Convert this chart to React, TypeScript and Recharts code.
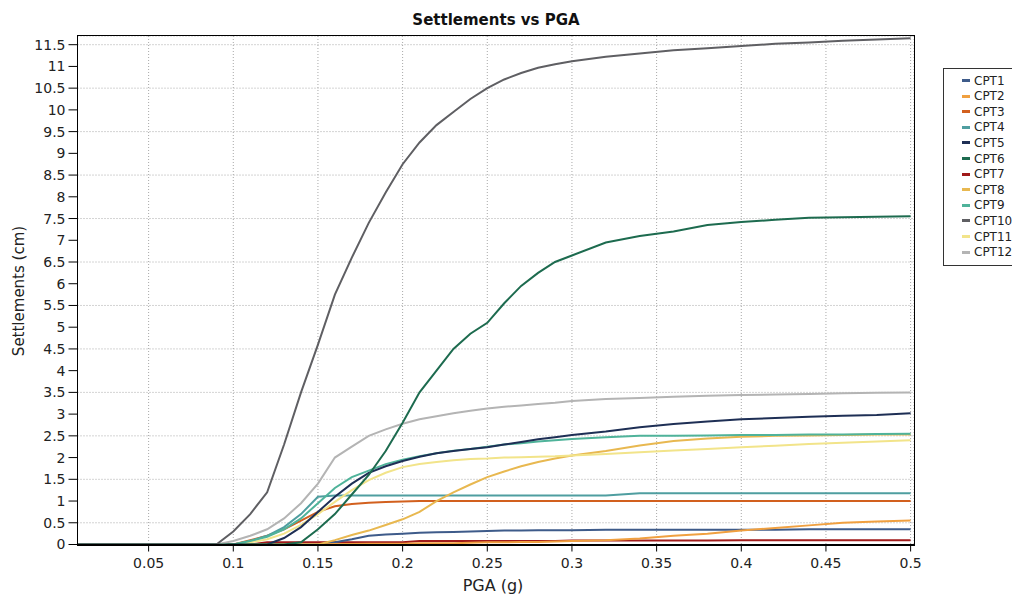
import React from 'react';
import { LineChart, Line, XAxis, YAxis, CartesianGrid } from 'recharts';

const pga = [0.008, 0.09, 0.1, 0.11, 0.12, 0.13, 0.14, 0.15, 0.16, 0.17, 0.18, 0.19, 0.2, 0.21, 0.22, 0.23, 0.24, 0.25, 0.26, 0.27, 0.28, 0.29, 0.3, 0.32, 0.34, 0.36, 0.38, 0.4, 0.42, 0.44, 0.46, 0.48, 0.5];

const cpt1 = [0, 0, 0, 0, 0, 0, 0, 0, 0.05, 0.12, 0.2, 0.23, 0.25, 0.27, 0.28, 0.29, 0.3, 0.31, 0.32, 0.32, 0.33, 0.33, 0.33, 0.34, 0.34, 0.34, 0.34, 0.34, 0.34, 0.35, 0.35, 0.35, 0.35];
const cpt2 = [0, 0, 0, 0, 0, 0, 0, 0, 0.01, 0.01, 0.02, 0.02, 0.02, 0.03, 0.03, 0.03, 0.04, 0.05, 0.05, 0.06, 0.06, 0.07, 0.08, 0.1, 0.14, 0.2, 0.25, 0.32, 0.38, 0.44, 0.5, 0.53, 0.55];
const cpt3 = [0, 0, 0, 0.1, 0.2, 0.35, 0.55, 0.75, 0.88, 0.93, 0.96, 0.98, 0.99, 1, 1, 1, 1, 1, 1, 1, 1, 1, 1, 1, 1, 1, 1, 1, 1, 1, 1, 1, 1];
const cpt4 = [0, 0, 0, 0.08, 0.2, 0.4, 0.7, 1.1, 1.13, 1.13, 1.13, 1.13, 1.13, 1.13, 1.13, 1.13, 1.13, 1.13, 1.13, 1.13, 1.13, 1.13, 1.13, 1.13, 1.18, 1.18, 1.18, 1.18, 1.18, 1.18, 1.18, 1.18, 1.18];
const cpt5 = [0, 0, 0, 0, 0, 0.15, 0.4, 0.75, 1.1, 1.4, 1.65, 1.8, 1.92, 2.02, 2.1, 2.15, 2.2, 2.24, 2.3, 2.36, 2.42, 2.47, 2.52, 2.6, 2.7, 2.77, 2.83, 2.88, 2.91, 2.94, 2.96, 2.98, 3.02];
const cpt6 = [0, 0, 0, 0, 0, 0, 0.05, 0.35, 0.7, 1.15, 1.6, 2.15, 2.8, 3.5, 4.0, 4.5, 4.85, 5.1, 5.55, 5.95, 6.25, 6.5, 6.65, 6.95, 7.1, 7.2, 7.35, 7.42, 7.47, 7.52, 7.53, 7.54, 7.55];
const cpt7 = [0, 0, 0, 0, 0.05, 0.05, 0.05, 0.05, 0.05, 0.05, 0.05, 0.05, 0.05, 0.08, 0.08, 0.08, 0.08, 0.08, 0.08, 0.08, 0.08, 0.08, 0.09, 0.09, 0.09, 0.09, 0.09, 0.1, 0.1, 0.1, 0.1, 0.1, 0.1];
const cpt8 = [0, 0, 0, 0, 0, 0, 0, 0, 0.1, 0.22, 0.32, 0.45, 0.58, 0.75, 1.0, 1.2, 1.38, 1.55, 1.68, 1.8, 1.9, 1.98, 2.05, 2.15, 2.28, 2.38, 2.44, 2.48, 2.5, 2.51, 2.52, 2.53, 2.53];
const cpt9 = [0, 0, 0, 0.08, 0.18, 0.35, 0.6, 0.95, 1.3, 1.55, 1.7, 1.85, 1.95, 2.03, 2.1, 2.16, 2.2, 2.25, 2.3, 2.33, 2.37, 2.4, 2.43, 2.47, 2.5, 2.5, 2.51, 2.52, 2.52, 2.53, 2.53, 2.54, 2.55];
const cpt10 = [0, 0, 0.3, 0.7, 1.2, 2.3, 3.5, 4.6, 5.75, 6.6, 7.4, 8.1, 8.75, 9.25, 9.65, 9.95, 10.25, 10.5, 10.7, 10.85, 10.97, 11.05, 11.12, 11.22, 11.3, 11.37, 11.42, 11.47, 11.52, 11.55, 11.59, 11.62, 11.65];
const cpt11 = [0, 0, 0, 0.05, 0.12, 0.25, 0.45, 0.7, 0.98, 1.25, 1.48, 1.65, 1.78, 1.85, 1.9, 1.94, 1.97, 1.98, 2.0, 2.01, 2.02, 2.03, 2.05, 2.08, 2.12, 2.16, 2.2, 2.24, 2.27, 2.31, 2.34, 2.37, 2.4];
const cpt12 = [0, 0, 0.08, 0.2, 0.35, 0.6, 0.95, 1.4, 2.0, 2.25, 2.5, 2.65, 2.78, 2.88, 2.95, 3.02, 3.08, 3.13, 3.17, 3.2, 3.23, 3.26, 3.3, 3.35, 3.37, 3.4, 3.42, 3.44, 3.45, 3.46, 3.48, 3.49, 3.5];

const seriesNames = ['CPT1', 'CPT2', 'CPT3', 'CPT4', 'CPT5', 'CPT6', 'CPT7', 'CPT8', 'CPT9', 'CPT10', 'CPT11', 'CPT12'];
const seriesValues = [cpt1, cpt2, cpt3, cpt4, cpt5, cpt6, cpt7, cpt8, cpt9, cpt10, cpt11, cpt12];
const seriesColors = ['#3e5b8a', '#f0a040', '#d2601e', '#4f9ea0', '#1e2f55', '#1d6b4f', '#a01a1a', '#e8b850', '#4fb39a', '#5f5f63', '#f2e48a', '#b4b4b4'];

const xTicks = [0.05, 0.1, 0.15, 0.2, 0.25, 0.3, 0.35, 0.4, 0.45, 0.5];
const yTicks = [0, 0.5, 1, 1.5, 2, 2.5, 3, 3.5, 4, 4.5, 5, 5.5, 6, 6.5, 7, 7.5, 8, 8.5, 9, 9.5, 10, 10.5, 11, 11.5];

const rows = pga.map((x, i) => {
  const r: Record<string, number> = { pga: x };
  seriesNames.forEach((n, k) => { r[n] = seriesValues[k][i]; });
  return r;
});

const FONT = '"DejaVu Sans", Verdana, sans-serif';
const drawOrder = [6, 0, 1, 2, 3, 7, 10, 8, 4, 11, 5, 9];

export default function App() {
  return (
    <div style={{ position: 'absolute', left: 0, top: 0, width: 1012, height: 595, overflow: 'hidden', background: '#fff', fontFamily: FONT }}>
      <LineChart width={1012} height={595} data={rows} margin={{ top: 36, right: 98, bottom: 20, left: 0 }}>
        <CartesianGrid stroke="#a8a8a8" strokeDasharray="1 2" />
        <XAxis
          dataKey="pga"
          type="number"
          domain={[0.008, 0.502]}
          ticks={xTicks}
          allowDataOverflow
          height={30.5}
          tickSize={7}
          tickMargin={7}
          stroke="#000"
          tick={{ fill: '#222', fontSize: 14, fontFamily: FONT }}
        />
        <YAxis
          type="number"
          domain={[0, 11.7]}
          ticks={yTicks}
          allowDataOverflow
          width={77.5}
          tickSize={9}
          tickMargin={3}
          stroke="#000"
          tick={{ fill: '#222', fontSize: 14, fontFamily: FONT }}
        />
        {drawOrder.map((k) => (
          <Line
            key={seriesNames[k]}
            dataKey={seriesNames[k]}
            stroke={seriesColors[k]}
            strokeWidth={2}
            dot={false}
            type="linear"
            isAnimationActive={false}
          />
        ))}
      </LineChart>
      <div style={{ position: 'absolute', left: 77, top: 35, width: 836, height: 509, border: '1px solid #000', pointerEvents: 'none' }} />
      <svg width={1012} height={595} style={{ position: 'absolute', left: 0, top: 0, pointerEvents: 'none' }}>
        <text x={496} y={25} textAnchor="middle" fontFamily={FONT} fontSize={15} fontWeight="bold" fill="#111">Settlements vs PGA</text>
        <text x={493} y={591} textAnchor="middle" fontFamily={FONT} fontSize={16} fill="#222">PGA (g)</text>
        <text x={0} y={0} transform="translate(24,291) rotate(-90)" textAnchor="middle" fontFamily={FONT} fontSize={15} fill="#222">Settlements (cm)</text>
      </svg>
      <div style={{ position: 'absolute', left: 943, top: 68, width: 90, height: 196, border: '1px solid #333', background: '#fff', fontFamily: FONT, fontSize: 12, color: '#222' }}>
        {seriesNames.map((n, k) => (
          <div key={n} style={{ position: 'absolute', left: 18, top: 4 + k * 15.6, height: 15, display: 'flex', alignItems: 'center', whiteSpace: 'nowrap' }}>
            <span style={{ display: 'inline-block', width: 8, height: 3, background: seriesColors[k], marginRight: 4 }} />
            <span>{n}</span>
          </div>
        ))}
      </div>
    </div>
  );
}
